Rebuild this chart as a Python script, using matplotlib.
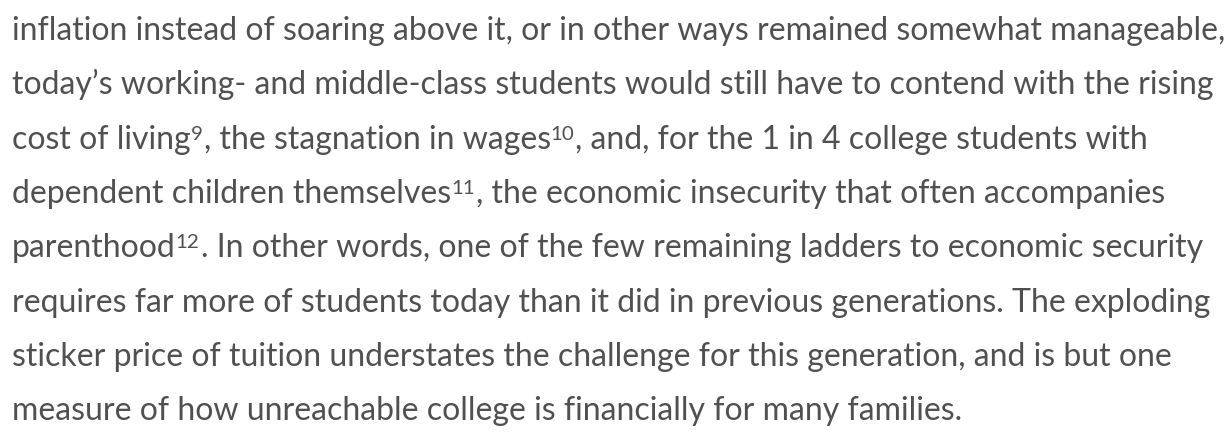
import matplotlib.pyplot as plt

# each line is a list of (text, is_superscript) pieces
lines = [
    [("inflation instead of soaring above it, or in other ways remained somewhat manageable,", False)],
    [("today\u2019s working- and middle-class students would still have to contend with the rising", False)],
    [("cost of living", False), ("9", True), (", the stagnation in wages", False), ("10", True),
     (", and, for the 1 in 4 college students with", False)],
    [("dependent children themselves", False), ("11", True),
     (", the economic insecurity that often accompanies", False)],
    [("parenthood", False), ("12", True),
     (". In other words, one of the few remaining ladders to economic security", False)],
    [("requires far more of students today than it did in previous generations. The exploding", False)],
    [("sticker price of tuition understates the challenge for this generation, and is but one", False)],
    [("measure of how unreachable college is financially for many families.", False)],
]

W, H = 1230, 435
left = 12
first_baseline = 40
line_step = 54.3
size = 23.0
color = "#505050"

plt.rcParams['font.family'] = ['Lato', 'DejaVu Sans']

fig = plt.figure(figsize=(W / 100, H / 100), dpi=100)
fig.patch.set_facecolor("white")
renderer = fig.canvas.get_renderer()

for i, pieces in enumerate(lines):
    y = first_baseline + i * line_step
    x = left
    for txt, sup in pieces:
        if sup:
            t = fig.text(x / W, 1 - (y - 9) / H, txt, fontsize=size * 0.64,
                         color=color, va="baseline", ha="left")
        else:
            t = fig.text(x / W, 1 - y / H, txt, fontsize=size,
                         color=color, va="baseline", ha="left")
        bb = t.get_window_extent(renderer)
        x = bb.x1 + (1 if sup else 0)

fig.savefig("out.png", dpi=100, facecolor="white")
